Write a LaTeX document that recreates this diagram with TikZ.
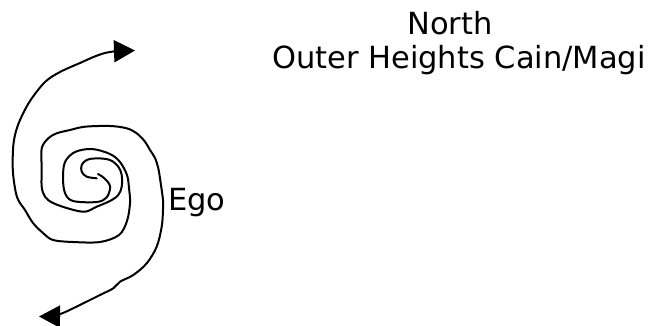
\documentclass[tikz,border=0pt]{standalone}
\usepackage{fontspec}
\setmainfont{DejaVu Sans}
\usepackage{tikz}
\usetikzlibrary{arrows.meta}

\begin{document}
\begin{tikzpicture}[x=1pt,y=-1pt,
    >={Triangle[length=21pt,width=22pt]},
    spiralline/.style = {line width=2pt,line join=round,line cap=round},
    heading/.style    = {font=\fontsize{30.5}{36}\selectfont,inner sep=0pt},
  ]
  \useasboundingbox (0,0) rectangle (650,326);

  % Bras du haut, de la fleche vers le centre
  \draw[spiralline,<-] plot[smooth,tension=0.55] coordinates {
      (135,50.5) (110,52) (96,56) (80,63) (60,72) (45,82) (30,101) (20,120)
      (15,135) (13,150) (13,173) (17,197) (25,210) (33,223) (43,233) (53,240)
      (73,242) (100,242) (119,235) (127,221) (130,203) (129,188) (127,175)
      (120,162) (110,154) (92,149) (75,152) (65,162) (63,178) (65,193)
      (73,201) (97,202) (107,197) (110,186) (104,178) (98,174)};

  % Bras du bas, du centre vers la fleche
  \draw[spiralline,->] plot[smooth,tension=0.55] coordinates {
      (96.7,178.3) (86.7,176.7) (81.7,171.7) (81.7,165) (86.7,160) (96.7,158.3)
      (110,160) (118.3,166.7) (121.7,175) (121.7,186.7) (118.3,195) (110,201)
      (96.7,206.7) (85,211.7) (70,209) (53,203) (45,196.7) (41.7,186.7)
      (41.7,168.3) (41.7,148.3) (48.3,138.3) (56.7,133.3) (70,130) (85,126.7)
      (110,126) (126.7,128.3) (136.7,133.3) (145,141.7) (150,150) (155,158)
      (158.3,168.3) (160.5,181.7) (163,200) (163,210) (161.7,226.7)
      (156.7,246.7) (146.7,263.3) (133.3,275) (120,281.7) (113.3,288.3)
      (100,295) (83.3,303.3) (63,313) (52,316) (39,316.5)};

  % Textes
  \node[heading,anchor=base]      (nord)  at (450,35)  {North};
  \node[heading,anchor=base]      (outer) at (459,69)  {Outer Heights Cain/Magi};
  \node[heading,anchor=base west] (ego)   at (168,210) {Ego};

\end{tikzpicture}
\end{document}
